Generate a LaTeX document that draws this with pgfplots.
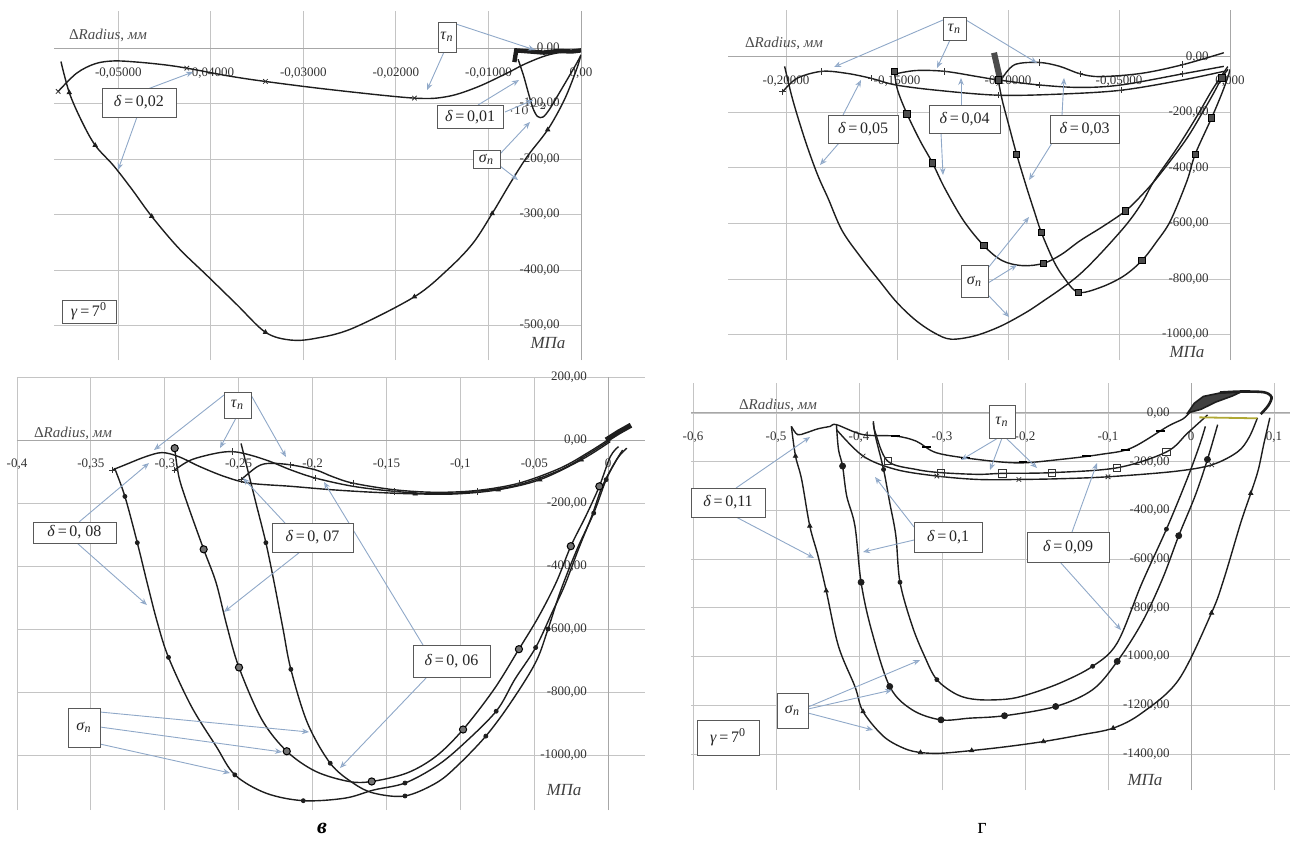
\documentclass[border=0pt]{standalone}
\usepackage{fontspec}
\setmainfont{Liberation Serif}
\usepackage{pgfplots}
\pgfplotsset{compat=1.18}
\usetikzlibrary{arrows.meta}
\definecolor{arrowblue}{HTML}{8FA8C8}
\definecolor{gridgray}{HTML}{C4C4C4}
\definecolor{curve}{HTML}{1E1E1E}
\pgfplotsset{
  panel/.style={
    scale only axis,
    axis lines=middle,
    axis line style={draw=gridgray!85!black, line width=0.5pt, -},
    grid=major,
    major grid style={draw=gridgray, line width=0.45pt},
    tick style={draw=none},
    hide obscured x ticks=false,
    hide obscured y ticks=false,
    x tick label style={font=\fontsize{6.5}{7}\selectfont, text=black!80, yshift=-4pt},
    y tick label style={font=\fontsize{6.5}{7}\selectfont, text=black!80, anchor=east, xshift=-5pt},
    anchor=south west,
  },
  cv/.style={curve, line width=0.7pt, smooth, tension=0.55, mark=none},
  tri/.style={only marks, mark=triangle*, mark size=1.2pt, curve},
  dot/.style={only marks, mark=*, mark size=1.0pt, curve},
  bigdot/.style={only marks, mark=*, mark size=1.8pt, mark options={draw=black, fill=black!55, line width=0.5pt}},
  sq/.style={only marks, mark=square*, mark size=1.6pt, mark options={draw=black, fill=black!70}},
  osq/.style={only marks, mark=square, mark size=1.8pt, mark options={draw=black!80, line width=0.45pt}},
  crs/.style={only marks, mark=x, mark size=1.6pt, mark options={draw=black!80, line width=0.4pt}},
  pls/.style={only marks, mark=+, mark size=1.6pt, mark options={draw=black!80, line width=0.4pt}},
  dsh/.style={only marks, mark=-, mark size=2.2pt, mark options={draw=black, line width=1pt}},
}
\tikzset{
  bx/.style={draw=black!65, fill=white, line width=0.4pt, inner sep=0pt, font=\fontsize{8}{9}\selectfont, text=black!85},
  ar/.style={draw=arrowblue, line width=0.45pt, -{Stealth[length=3.5pt,width=2.8pt,open]}},
  dr/.style={anchor=west, font=\fontsize{7.5}{8}\selectfont, text=black!70},
  mpa/.style={font=\fontsize{8.5}{9}\selectfont\itshape, text=black!75},
}
\newcommand{\dl}[1]{\textit{δ}\,=\,#1}
\newcommand{\taun}{\textit{τ}\textsubscript{\textit{n}}}
\newcommand{\sign}{\textit{σ}\textsubscript{\textit{n}}}
\newcommand{\gam}{\textit{γ}\,=\,7\textsuperscript{0}}
\newcommand{\drad}{Δ\textit{Radius}, \textit{мм}}
\begin{document}
\begin{tikzpicture}
\useasboundingbox (0pt,0pt) rectangle (646.5pt,-420.5pt);
% ---------------- Panel a ----------------
\begin{axis}[panel, at={(27pt,-180pt)}, width=263.5pt, height=174.5pt,
  xmin=-0.05695, xmax=0, ymin=-562, ymax=67,
  xtick={-0.05,-0.04,-0.03,-0.02,-0.01,0},
  xticklabels={{-0,05000},{-0,04000},{-0,03000},{-0,02000},{-0,01000},{0,00}},
  ytick={-500,-400,-300,-200,-100,0},
  yticklabels={{-500,00},{-400,00},{-300,00},{-200,00},{-100,00},{0,00}}]
\addplot[cv] coordinates {(-0.0562,-24) (-0.0553,-80) (-0.0540,-130) (-0.0525,-175) (-0.0505,-212) (-0.0485,-255) (-0.0464,-303) (-0.0435,-360) (-0.0404,-410) (-0.0372,-462) (-0.0341,-512) (-0.0314,-526) (-0.0287,-523) (-0.0247,-505) (-0.0180,-448) (-0.0144,-399) (-0.0117,-352) (-0.0096,-298) (-0.0076,-242) (-0.0058,-195) (-0.0036,-147) (-0.0018,-93) (-0.0005,-39) (0.0000,-12)};
\addplot[tri] coordinates {(-0.0553,-80) (-0.0525,-175) (-0.0464,-303) (-0.0341,-512) (-0.0180,-448) (-0.0096,-298) (-0.0036,-147)};
\addplot[cv] coordinates {(-0.0565,-78) (-0.0545,-45) (-0.0525,-28) (-0.0505,-23) (-0.0480,-25) (-0.0450,-30) (-0.0426,-36) (-0.0381,-50) (-0.0341,-60) (-0.0269,-75) (-0.0180,-90) (-0.0144,-87) (-0.0112,-70) (-0.0080,-45) (-0.0060,-28) (-0.0035,-12) (-0.0005,-3)};
\addplot[crs] coordinates {(-0.0565,-78) (-0.0426,-36) (-0.0341,-60) (-0.0180,-90)};
\addplot[cv] coordinates {(-0.0068,-20) (-0.0062,-50) (-0.0057,-80) (-0.0052,-108) (-0.0047,-123) (-0.0041,-124) (-0.0034,-110) (-0.0025,-85) (-0.0013,-51) (-0.0004,-25) (0.0000,-12)};
\addplot[curve, line width=2.2pt, mark=none] coordinates {(-0.0072,-25) (-0.0070,-4) (-0.0055,-6) (-0.0040,-8) (-0.0025,-5) (-0.0010,-6) (0.0000,-4)};
\end{axis}
% ---------------- Panel b ----------------
\begin{axis}[panel, at={(364pt,-180pt)}, width=251pt, height=175pt,
  xmin=-0.2261, xmax=0, ymin=-1092, ymax=169,
  xtick={-0.2,-0.15,-0.1,-0.05,0},
  xticklabels={{-0,20000},{-0,15000},{-0,10000},{-0,05000},{0,000}},
  ytick={-1000,-800,-600,-400,-200,0},
  yticklabels={{-1000,00},{-800,00},{-600,00},{-400,00},{-200,00},{0,00}}]
\addplot[cv] coordinates {(-0.2006,-34) (-0.1969,-156) (-0.1913,-302) (-0.1858,-424) (-0.1810,-510) (-0.1747,-626) (-0.1660,-725) (-0.1580,-806) (-0.1500,-885) (-0.1414,-950) (-0.1330,-995) (-0.1257,-1017) (-0.1150,-1005) (-0.1044,-974) (-0.0950,-935) (-0.0860,-890) (-0.0675,-782) (-0.0490,-626) (-0.0400,-530) (-0.0342,-447) (-0.0240,-330) (-0.0150,-215) (-0.0085,-125) (-0.0040,-70) (-0.0010,-35)};
\addplot[cv] coordinates {(-0.1512,-52) (-0.1497,-120) (-0.1455,-205) (-0.1396,-302) (-0.1340,-382) (-0.1285,-473) (-0.1200,-590) (-0.1109,-680) (-0.1026,-734) (-0.0935,-752) (-0.0841,-744) (-0.0760,-712) (-0.0675,-662) (-0.0571,-610) (-0.0471,-555) (-0.0400,-500) (-0.0323,-430) (-0.0200,-300) (-0.0120,-195) (-0.0070,-125) (-0.0037,-75) (-0.0009,-45)};
\addplot[sq] coordinates {(-0.1512,-52) (-0.1455,-205) (-0.1340,-382) (-0.1109,-680) (-0.0841,-744) (-0.0471,-555) (-0.0037,-75)};
\addplot[cv] coordinates {(-0.1044,-83) (-0.1026,-156) (-0.0995,-250) (-0.0961,-351) (-0.0915,-473) (-0.0880,-560) (-0.0850,-632) (-0.0795,-734) (-0.0749,-794) (-0.0684,-848) (-0.0582,-830) (-0.0480,-790) (-0.0397,-734) (-0.0330,-665) (-0.0268,-590) (-0.0194,-447) (-0.0157,-351) (-0.0083,-220) (-0.0037,-132) (-0.0009,-71) (0.0000,-45)};
\addplot[sq] coordinates {(-0.1044,-83) (-0.0961,-351) (-0.0850,-632) (-0.0684,-848) (-0.0397,-734) (-0.0157,-351) (-0.0083,-220)};
\addplot[cv] coordinates {(-0.2015,-126) (-0.1950,-77) (-0.1839,-52) (-0.1728,-59) (-0.1617,-77) (-0.1506,-101) (-0.1322,-120) (-0.1044,-138) (-0.0767,-134) (-0.0490,-120) (-0.0213,-83) (-0.0028,-52)};
\addplot[pls] coordinates {(-0.2015,-126) (-0.1839,-52) (-0.1617,-77) (-0.1044,-138) (-0.0490,-120)};
\addplot[cv] coordinates {(-0.1506,-61) (-0.1414,-49) (-0.1285,-52) (-0.1137,-71) (-0.1044,-83) (-0.0860,-101) (-0.0675,-110) (-0.0490,-101) (-0.0213,-61) (-0.0028,-34)};
\addplot[pls] coordinates {(-0.1285,-52) (-0.0860,-101) (-0.0213,-61)};
\addplot[cv] coordinates {(-0.1026,-77) (-0.0970,-28) (-0.0860,-20) (-0.0767,-34) (-0.0675,-61) (-0.0582,-71) (-0.0397,-59) (-0.0213,-28) (-0.0028,15)};
\addplot[pls] coordinates {(-0.0860,-20) (-0.0675,-61) (-0.0213,-28)};
\addplot[curve!80, line width=3pt, mark=none] coordinates {(-0.1063,15) (-0.1035,-83)};
\end{axis}
% ---------------- Panel v ----------------
\begin{axis}[panel, at={(8.5pt,-405pt)}, width=314pt, height=216.5pt,
  xmin=-0.4, xmax=0.0249, ymin=-1174.6, ymax=200,
  xtick={-0.4,-0.35,-0.3,-0.25,-0.2,-0.15,-0.1,-0.05,0},
  xticklabels={{-0,4},{-0,35},{-0,3},{-0,25},{-0,2},{-0,15},{-0,1},{-0,05},{0}},
  ytick={-1000,-800,-600,-400,-200,0,200},
  yticklabels={{-1000,00},{-800,00},{-600,00},{-400,00},{-200,00},{0,00},{200,00}}]
\addplot[cv] coordinates {(-0.3340,-89) (-0.3270,-179) (-0.3186,-326) (-0.3116,-460) (-0.3050,-580) (-0.2975,-690) (-0.2821,-845) (-0.2653,-972) (-0.2526,-1063) (-0.2316,-1121) (-0.2063,-1145) (-0.1782,-1137) (-0.1586,-1111) (-0.1375,-1089) (-0.1165,-1036) (-0.0996,-972) (-0.0758,-861) (-0.0632,-760) (-0.0491,-659) (-0.0379,-547) (-0.0295,-462) (-0.0200,-345) (-0.0110,-240) (-0.0040,-147) (0.0060,-60) (0.0126,-26)};
\addplot[dot] coordinates {(-0.3270,-179) (-0.3186,-326) (-0.2975,-690) (-0.2526,-1063) (-0.2063,-1145) (-0.1375,-1089) (-0.0758,-861) (-0.0491,-659)};
\addplot[cv] coordinates {(-0.2933,-26) (-0.2905,-116) (-0.2849,-200) (-0.2737,-347) (-0.2653,-453) (-0.2580,-590) (-0.2498,-722) (-0.2344,-887) (-0.2175,-988) (-0.1979,-1052) (-0.1754,-1084) (-0.1600,-1084) (-0.1361,-1057) (-0.1165,-1004) (-0.0982,-919) (-0.0772,-791) (-0.0604,-664) (-0.0470,-560) (-0.0350,-450) (-0.0253,-337) (-0.0150,-240) (-0.0060,-147) (0.0014,-53) (0.0070,-21)};
\addplot[bigdot] coordinates {(-0.2933,-26) (-0.2737,-347) (-0.2498,-722) (-0.2175,-988) (-0.1600,-1084) (-0.0982,-919) (-0.0604,-664) (-0.0253,-337) (-0.0060,-147)};
\addplot[cv] coordinates {(-0.2484,-11) (-0.2428,-116) (-0.2372,-221) (-0.2316,-326) (-0.2260,-453) (-0.2200,-600) (-0.2147,-728) (-0.2035,-898) (-0.1881,-1026) (-0.1726,-1089) (-0.1586,-1121) (-0.1375,-1130) (-0.1165,-1089) (-0.1025,-1036) (-0.0828,-940) (-0.0660,-834) (-0.0491,-706) (-0.0407,-600) (-0.0323,-480) (-0.0211,-347) (-0.0098,-232) (-0.0014,-126) (0.0060,-60) (0.0098,-32)};
\addplot[dot] coordinates {(-0.2316,-326) (-0.2147,-728) (-0.1881,-1026) (-0.1375,-1130) (-0.0828,-940) (-0.0407,-600) (-0.0098,-232) (-0.0014,-126)};
\addplot[cv] coordinates {(-0.3354,-95) (-0.3270,-79) (-0.3130,-53) (-0.3018,-40) (-0.2905,-53) (-0.2765,-84) (-0.2596,-116) (-0.2428,-137) (-0.2147,-147) (-0.1867,-158) (-0.1586,-166) (-0.1305,-171) (-0.1025,-171) (-0.0744,-158) (-0.0463,-126) (-0.0182,-63) (0.0014,-5)};
\addplot[tri] coordinates {(-0.1305,-171) (-0.0744,-158) (-0.0463,-126) (-0.0182,-63)};
\addplot[cv] coordinates {(-0.2933,-95) (-0.2821,-63) (-0.2653,-42) (-0.2540,-37) (-0.2428,-47) (-0.2288,-68) (-0.2147,-95) (-0.1979,-121) (-0.1726,-147) (-0.1446,-163) (-0.1165,-171) (-0.0884,-163) (-0.0604,-142) (-0.0323,-95) (-0.0126,-42) (0.0014,0)};
\addplot[pls] coordinates {(-0.3354,-95) (-0.2933,-95) (-0.2540,-37) (-0.1979,-121) (-0.1446,-163) (-0.0884,-163)};
\addplot[cv] coordinates {(-0.2484,-126) (-0.2372,-84) (-0.2288,-74) (-0.2147,-79) (-0.1979,-95) (-0.1867,-116) (-0.1726,-137) (-0.1446,-158) (-0.1165,-166) (-0.0884,-160) (-0.0604,-137) (-0.0323,-89) (-0.0126,-37) (0.0014,5)};
\addplot[pls] coordinates {(-0.2484,-126) (-0.2147,-79) (-0.1726,-137) (-0.0604,-137)};
\addplot[curve, line width=2.6pt, mark=none] coordinates {(-0.0014,0) (0.0070,25) (0.0154,47)};
\end{axis}
% ---------------- Panel g ----------------
\begin{axis}[panel, at={(345.5pt,-395pt)}, width=299.5pt, height=203.5pt,
  xmin=-0.6024, xmax=0.1193, ymin=-1548, ymax=123,
  xtick={-0.6,-0.5,-0.4,-0.3,-0.2,-0.1,0,0.1},
  xticklabels={{-0,6},{-0,5},{-0,4},{-0,3},{-0,2},{-0,1},{0},{0,1}},
  ytick={-1400,-1200,-1000,-800,-600,-400,-200,0},
  yticklabels={{-1400,00},{-1200,00},{-1000,00},{-800,00},{-600,00},{-400,00},{-200,00},{0,00}}]
\addplot[cv] coordinates {(-0.4815,-55) (-0.4765,-177) (-0.4691,-273) (-0.4593,-464) (-0.4494,-586) (-0.4395,-730) (-0.4247,-958) (-0.4049,-1123) (-0.3951,-1226) (-0.3704,-1328) (-0.3457,-1377) (-0.3259,-1394) (-0.3012,-1397) (-0.2642,-1386) (-0.2222,-1370) (-0.1778,-1349) (-0.1333,-1322) (-0.0938,-1294) (-0.0593,-1232) (-0.0148,-1095) (0.0247,-821) (0.0395,-683) (0.0600,-450) (0.0720,-330) (0.0810,-234) (0.0880,-123) (0.0950,-20)};
\addplot[tri] coordinates {(-0.4765,-177) (-0.4593,-464) (-0.4395,-730) (-0.3951,-1226) (-0.3259,-1394) (-0.2642,-1386) (-0.1778,-1349) (-0.0938,-1294) (0.0247,-821) (0.0720,-330)};
\addplot[cv] coordinates {(-0.4272,-48) (-0.4247,-150) (-0.4198,-218) (-0.4148,-341) (-0.4049,-464) (-0.3975,-695) (-0.3852,-889) (-0.3630,-1123) (-0.3358,-1219) (-0.3012,-1260) (-0.2667,-1253) (-0.2247,-1243) (-0.1630,-1205) (-0.1185,-1136) (-0.0889,-1020) (-0.0593,-862) (-0.0346,-683) (-0.0148,-504) (0.0049,-341) (0.0198,-191) (0.0321,-48)};
\addplot[only marks, mark=*, mark size=1.5pt, curve] coordinates {(-0.4198,-218) (-0.3975,-695) (-0.3630,-1123) (-0.3012,-1260) (-0.2247,-1243) (-0.1630,-1205) (-0.0889,-1020) (-0.0148,-504) (0.0198,-191)};
\addplot[cv] coordinates {(-0.3827,-34) (-0.3802,-95) (-0.3704,-232) (-0.3630,-368) (-0.3556,-504) (-0.3506,-695) (-0.3358,-875) (-0.3210,-999) (-0.3062,-1095) (-0.2815,-1157) (-0.2568,-1177) (-0.2222,-1175) (-0.1975,-1157) (-0.1580,-1109) (-0.1185,-1040) (-0.0889,-944) (-0.0593,-700) (-0.0296,-477) (-0.0049,-273) (0.0099,-136) (0.0173,-55)};
\addplot[dot] coordinates {(-0.3704,-232) (-0.3506,-695) (-0.3062,-1095) (-0.1185,-1040) (-0.0296,-477)};
\addplot[cv] coordinates {(-0.4815,-55) (-0.4741,-89) (-0.4642,-82) (-0.4494,-65) (-0.4346,-55) (-0.4272,-48) (-0.3951,-89) (-0.3556,-95) (-0.3309,-116) (-0.3062,-164) (-0.2568,-191) (-0.2074,-205) (-0.1580,-191) (-0.1086,-170) (-0.0720,-144) (-0.0280,-55) (-0.0100,-25) (-0.0020,0)};
\addplot[dsh] coordinates {(-0.3556,-95) (-0.3188,-140) (-0.2716,-185) (-0.2025,-203) (-0.1259,-178) (-0.0790,-150) (-0.0370,-75)};
\addplot[cv] coordinates {(-0.4272,-68) (-0.3951,-177) (-0.3556,-232) (-0.3062,-259) (-0.2568,-273) (-0.2074,-273) (-0.1580,-270) (-0.1000,-262) (-0.0200,-240) (0.0250,-213) (0.0560,-160) (0.0700,-100) (0.0800,-20)};
\addplot[crs] coordinates {(-0.3951,-177) (-0.3062,-259) (-0.2074,-273) (-0.1000,-262) (0.0250,-213)};
\addplot[cv] coordinates {(-0.3827,-41) (-0.3802,-82) (-0.3654,-198) (-0.3309,-232) (-0.3012,-245) (-0.2568,-252) (-0.2272,-248) (-0.1679,-245) (-0.0889,-225) (-0.0296,-160) (-0.0040,-82) (0.0200,-8)};
\addplot[osq] coordinates {(-0.3654,-198) (-0.3012,-245) (-0.2272,-248) (-0.1679,-245) (-0.0889,-225) (-0.0296,-160)};
\addplot[fill=curve!85, draw=curve, line width=0.8pt, mark=none] coordinates {(-0.004,0) (0.004,40) (0.015,68) (0.035,82) (0.060,86) (0.050,70) (0.030,45) (0.012,15)} -- cycle;
\addplot[curve, line width=1.3pt, smooth, mark=none] coordinates {(0.035,84) (0.060,88) (0.088,85) (0.097,65) (0.093,30) (0.084,-5)};
\addplot[olive!70, line width=0.9pt, mark=none] coordinates {(0.010,-18) (0.045,-20) (0.080,-22)};
\end{axis}
% ---------------- annotations (pixel coordinates) ----------------
\begin{scope}[x=0.5pt, y=-0.5pt]
% panel a
\node[dr] at (62,35) {\drad};
\node[mpa] at (548,343) {МПа};
\draw[ar] (145,90) -- (193,72);
\draw[ar] (137,117) -- (118,170);
\draw[ar] (456,24) -- (535,50);
\draw[ar] (444,52) -- (427,90);
\draw[ar] (478,105) -- (519,80);
\draw[ar] (505,112) -- (533,100);
\draw[ar] (500,154) -- (530,122);
\draw[ar] (500,166) -- (518,180);
\node[bx, minimum width=37pt, minimum height=14.5pt] at (139,102.5) {\dl{0,02}};
\node[bx, minimum width=9pt, minimum height=15pt] at (447,37) {\taun};
\node[bx, minimum width=33pt, minimum height=11.5pt] at (470,117) {\dl{0,01}};
\node[bx, minimum width=13.5pt, minimum height=9pt] at (486.5,159) {\sign};
\node[bx, minimum width=27pt, minimum height=11.5pt] at (89,311.5) {\gam};
% panel b
\node[dr] at (738,43) {\drad};
\node[mpa] at (1187,352) {МПа};
\draw[ar] (943,20) -- (834,67);
\draw[ar] (950,40) -- (937,68);
\draw[ar] (966,20) -- (1037,63);
\draw[ar] (843,115) -- (861,80);
\draw[ar] (839,143) -- (820,165);
\draw[ar] (961,105) -- (961,78);
\draw[ar] (941,133) -- (943,175);
\draw[ar] (1062,115) -- (1064,78);
\draw[ar] (1052,143) -- (1029,180);
\draw[ar] (988,268) -- (1029,217);
\draw[ar] (988,283) -- (1017,265);
\draw[ar] (988,295) -- (1009,317);
\node[bx, minimum width=11.5pt, minimum height=11.5pt] at (954.5,28.5) {\taun};
\node[bx, minimum width=35pt, minimum height=14pt] at (863,129) {\dl{0,05}};
\node[bx, minimum width=35.5pt, minimum height=14pt] at (964.5,119) {\dl{0,04}};
\node[bx, minimum width=34.5pt, minimum height=14pt] at (1084.5,129) {\dl{0,03}};
\node[bx, minimum width=13.5pt, minimum height=16pt] at (974.5,281) {\sign};
% panel v
\node[dr] at (27,433) {\drad};
\node[mpa] at (564,790) {МПа};
\draw[ar] (79,522) -- (149,463);
\draw[ar] (77,543) -- (147,605);
\draw[ar] (224,395) -- (154,450);
\draw[ar] (236,418) -- (220,448);
\draw[ar] (251,395) -- (286,457);
\draw[ar] (285,523) -- (243,478);
\draw[ar] (300,552) -- (224,612);
\draw[ar] (423,645) -- (324,482);
\draw[ar] (427,677) -- (340,768);
\draw[ar] (100,712) -- (309,732);
\draw[ar] (100,727) -- (282,752);
\draw[ar] (100,744) -- (230,773);
\node[bx, minimum width=41.5pt, minimum height=10.5pt] at (74.5,532.5) {\dl{0, 08}};
\node[bx, minimum width=13.5pt, minimum height=13pt] at (237.5,405) {\taun};
\node[bx, minimum width=40.5pt, minimum height=14.5pt] at (312.5,537.5) {\dl{0, 07}};
\node[bx, minimum width=38.5pt, minimum height=16pt] at (451.5,661) {\dl{0, 06}};
\node[bx, minimum width=16pt, minimum height=19.5pt] at (84,727.5) {\sign};
\node[font=\fontsize{11}{12}\selectfont\bfseries\itshape] at (322,828) {в};
% panel g
\node[dr] at (732,405) {\drad};
\node[mpa] at (1145,780) {МПа};
\draw[ar] (998,438) -- (961,460);
\draw[ar] (1002,438) -- (990,470);
\draw[ar] (1006,438) -- (1037,468);
\draw[ar] (736,488) -- (810,437);
\draw[ar] (736,517) -- (814,558);
\draw[ar] (914,527) -- (875,477);
\draw[ar] (914,540) -- (863,552);
\draw[ar] (1072,532) -- (1097,463);
\draw[ar] (1060,562) -- (1121,630);
\draw[ar] (808,707) -- (920,660);
\draw[ar] (808,709) -- (892,690);
\draw[ar] (808,713) -- (873,730);
\node[bx, minimum width=13pt, minimum height=16.5pt] at (1002,421.5) {\taun};
\node[bx, minimum width=37pt, minimum height=14.5pt] at (728,502.5) {\dl{0,11}};
\node[bx, minimum width=34pt, minimum height=15pt] at (948,537) {\dl{0,1}};
\node[bx, minimum width=41pt, minimum height=15pt] at (1068,547) {\dl{0,09}};
\node[bx, minimum width=15.5pt, minimum height=17.5pt] at (792.5,710.5) {\sign};
\node[bx, minimum width=31pt, minimum height=17.5pt] at (728,737.5) {\gam};
\node[font=\fontsize{11}{12}\selectfont] at (982,828) {г};
\end{scope}
\end{tikzpicture}
\end{document}
